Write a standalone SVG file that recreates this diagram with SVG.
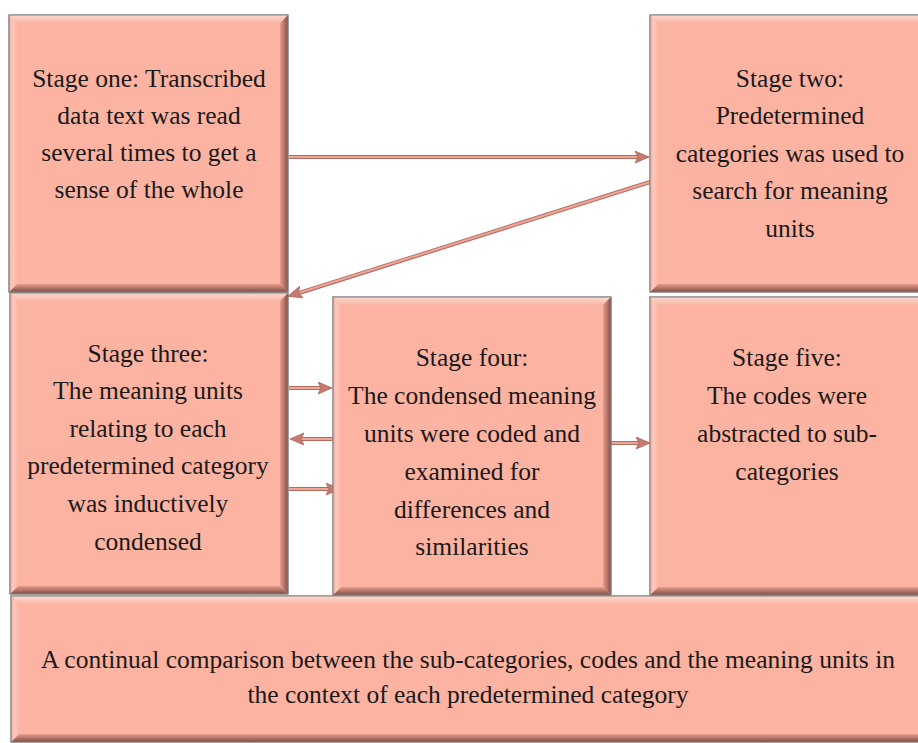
<svg xmlns="http://www.w3.org/2000/svg" width="918" height="743" viewBox="0 0 918 743">
<defs>
<linearGradient id="gTop" x1="0" y1="0" x2="0" y2="1"><stop offset="0" stop-color="#fcd9cf"/><stop offset="1" stop-color="#fbb7a7"/></linearGradient>
<linearGradient id="gBot" x1="0" y1="0" x2="0" y2="1"><stop offset="0" stop-color="#e89c8c"/><stop offset="1" stop-color="#7e4e46"/></linearGradient>
<linearGradient id="gLeft" x1="0" y1="0" x2="1" y2="0"><stop offset="0" stop-color="#f2a999"/><stop offset="0.4" stop-color="#fdcabe"/><stop offset="1" stop-color="#fbb5a5"/></linearGradient>
<linearGradient id="gRight" x1="0" y1="0" x2="1" y2="0"><stop offset="0" stop-color="#e99e8e"/><stop offset="1" stop-color="#83524a"/></linearGradient>
<marker id="ah" markerUnits="userSpaceOnUse" markerWidth="16" markerHeight="14" refX="13" refY="6" orient="auto">
<path d="M0,0 L14,6 L0,12 L3,6 Z" fill="#c77a6e" stroke="#a8635a" stroke-width="0.8"/>
</marker>
</defs>
<style>
.box{fill:#fcb3a2;stroke:#808080;stroke-width:1}
.t{fill:url(#gTop)}.b{fill:url(#gBot)}.l{fill:url(#gLeft)}.r{fill:url(#gRight)}
.lbl{font-size:25.5px;fill:#1a1a1a;text-anchor:middle}
.under{stroke:#b06c62;stroke-width:4;fill:none}
.over{stroke:#f0a696;stroke-width:2;fill:none}
</style>
<rect width="918" height="743" fill="#ffffff"/>

<g id="connectors">
<line class="under" x1="289" y1="157" x2="640" y2="157"/>
<line class="over" x1="289" y1="157" x2="648" y2="157" marker-end="url(#ah)"/>
<line class="under" x1="650" y1="182" x2="296" y2="294"/>
<line class="over" x1="650" y1="182" x2="289" y2="296" marker-end="url(#ah)"/>
<line class="under" x1="289" y1="388" x2="322" y2="388"/>
<line class="over" x1="289" y1="388" x2="331" y2="388" marker-end="url(#ah)"/>
<line class="under" x1="334" y1="439" x2="300" y2="439"/>
<line class="over" x1="334" y1="439" x2="291" y2="439" marker-end="url(#ah)"/>
<line class="under" x1="289" y1="489" x2="330" y2="489"/>
<line class="over" x1="289" y1="489" x2="339" y2="489" marker-end="url(#ah)"/>
<line class="under" x1="611" y1="443" x2="640" y2="443"/>
<line class="over" x1="611" y1="443" x2="649" y2="443" marker-end="url(#ah)"/>
</g>

<g id="stage1">
<rect class="box" x="9" y="15" width="279" height="277"/>
<polygon class="t" points="9,15 288,15 280,23 17,23"/>
<polygon class="b" points="9,292 288,292 280,284 17,284"/>
<polygon class="l" points="9,15 17,23 17,284 9,292"/>
<polygon class="r" points="288,15 280,23 280,284 288,292"/>
<rect x="9" y="15" width="279" height="277" fill="none" stroke="#808080" stroke-width="1"/>
<g class="lbl" font-family="Liberation Serif, DejaVu Serif, serif">
<text x="149" y="87">Stage one: Transcribed</text>
<text x="149" y="124">data text was read</text>
<text x="149" y="161">several times to get a</text>
<text x="149" y="198">sense of the whole</text>
</g>
</g>

<g id="stage2">
<rect class="box" x="650" y="15" width="276" height="277"/>
<polygon class="t" points="650,15 926,15 918,23 658,23"/>
<polygon class="b" points="650,292 926,292 918,284 658,284"/>
<polygon class="l" points="650,15 658,23 658,284 650,292"/>
<rect x="650" y="15" width="276" height="277" fill="none" stroke="#808080" stroke-width="1"/>
<g class="lbl" font-family="Liberation Serif, DejaVu Serif, serif">
<text x="790" y="87">Stage two:</text>
<text x="790" y="124">Predetermined</text>
<text x="790" y="162">categories was used to</text>
<text x="790" y="199">search for meaning</text>
<text x="790" y="237">units</text>
</g>
</g>

<g id="stage3">
<rect class="box" x="10" y="293" width="278" height="301"/>
<polygon class="t" points="10,293 288,293 280,301 18,301"/>
<polygon class="b" points="10,594 288,594 280,586 18,586"/>
<polygon class="l" points="10,293 18,301 18,586 10,594"/>
<polygon class="r" points="288,293 280,301 280,586 288,594"/>
<rect x="10" y="293" width="278" height="301" fill="none" stroke="#808080" stroke-width="1"/>
<g class="lbl" font-family="Liberation Serif, DejaVu Serif, serif">
<text x="148" y="362">Stage three:</text>
<text x="148" y="399">The meaning units</text>
<text x="148" y="437">relating to each</text>
<text x="148" y="474">predetermined category</text>
<text x="148" y="512">was inductively</text>
<text x="148" y="550">condensed</text>
</g>
</g>

<g id="stage4">
<rect class="box" x="333" y="297" width="278" height="298"/>
<polygon class="t" points="333,297 611,297 603,305 341,305"/>
<polygon class="b" points="333,595 611,595 603,587 341,587"/>
<polygon class="l" points="333,297 341,305 341,587 333,595"/>
<polygon class="r" points="611,297 603,305 603,587 611,595"/>
<rect x="333" y="297" width="278" height="298" fill="none" stroke="#808080" stroke-width="1"/>
<g class="lbl" font-family="Liberation Serif, DejaVu Serif, serif">
<text x="472" y="366">Stage four:</text>
<text x="472" y="404">The condensed meaning</text>
<text x="472" y="442">units were coded and</text>
<text x="472" y="480">examined for</text>
<text x="472" y="518">differences and</text>
<text x="472" y="555">similarities</text>
</g>
</g>

<g id="stage5">
<rect class="box" x="650" y="297" width="276" height="298"/>
<polygon class="t" points="650,297 926,297 918,305 658,305"/>
<polygon class="b" points="650,595 926,595 918,587 658,587"/>
<polygon class="l" points="650,297 658,305 658,587 650,595"/>
<rect x="650" y="297" width="276" height="298" fill="none" stroke="#808080" stroke-width="1"/>
<g class="lbl" font-family="Liberation Serif, DejaVu Serif, serif">
<text x="787" y="366">Stage five:</text>
<text x="787" y="404">The codes were</text>
<text x="787" y="442">abstracted to sub-</text>
<text x="787" y="480">categories</text>
</g>
</g>

<g id="comparison">
<rect class="box" x="11" y="596" width="915" height="146"/>
<polygon class="t" points="11,596 926,596 918,604 19,604"/>
<polygon class="b" points="11,742 926,742 918,734 19,734"/>
<polygon class="l" points="11,596 19,604 19,734 11,742"/>
<rect x="11" y="596" width="915" height="146" fill="none" stroke="#808080" stroke-width="1"/>
<g class="lbl" font-family="Liberation Serif, DejaVu Serif, serif">
<text x="468" y="668">A continual comparison between the sub-categories, codes and the meaning units in</text>
<text x="468" y="703">the context of each predetermined category</text>
</g>
</g>
</svg>
